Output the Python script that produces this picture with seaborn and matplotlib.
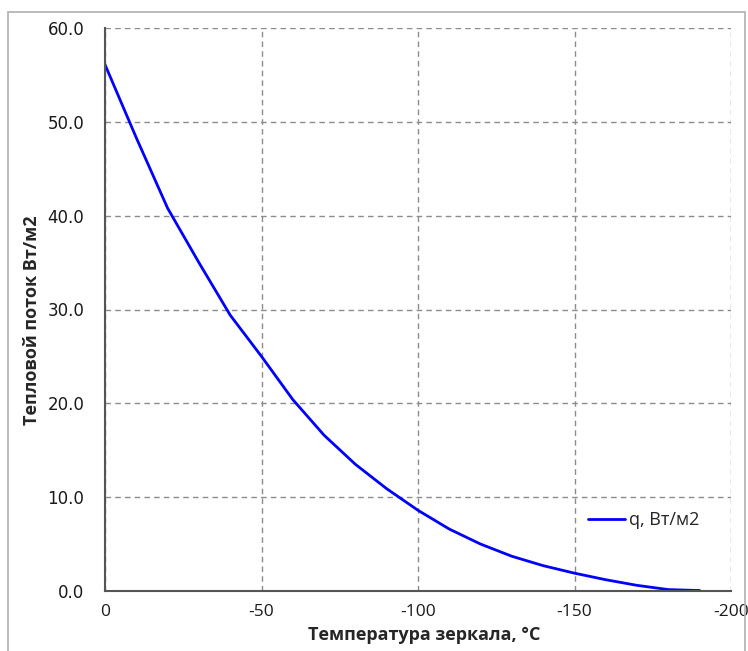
import matplotlib
matplotlib.use("Agg")
import matplotlib.pyplot as plt
import seaborn as sns
import pandas as pd
from matplotlib.patches import Rectangle

# Data
temperature = [0, -10, -20, -30, -40, -50, -60, -70, -80, -90,
               -100, -110, -120, -130, -140, -150, -160, -170, -180, -190]
heat_flux = [56.1, 48.3, 40.8, 35.0, 29.4, 25.0, 20.4, 16.6, 13.5, 10.9,
             8.6, 6.6, 5.0, 3.7, 2.7, 1.9, 1.2, 0.6, 0.15, 0.05]
series_name = "q, Вт/м2"
x_ticks = [0, -50, -100, -150, -200]
y_ticks = [0, 10, 20, 30, 40, 50, 60]

df = pd.DataFrame({"T": temperature, "q": heat_flux})

sns.set_style("white")
plt.rcParams["font.family"] = ["Open Sans", "DejaVu Sans"]

fig = plt.figure(figsize=(7.48, 6.51), dpi=100)
ax = fig.add_axes([105/748, 1 - 591/651, 626/748, 563/651])

sns.lineplot(data=df, x="T", y="q", ax=ax, color="#0000FF", linewidth=2.0,
             label=series_name)

ax.set_xlim(0, -200)
ax.set_ylim(0, 60)
ax.set_xticks(x_ticks)
ax.set_xticklabels([str(t) for t in x_ticks])
ax.set_yticks(y_ticks)
ax.set_yticklabels([f"{t:.1f}" for t in y_ticks], fontfamily="DejaVu Sans")

ax.grid(True, color="#8c8c8c", linestyle=(0, (4, 3)), linewidth=1.0)
for s in ["top", "right"]:
    ax.spines[s].set_visible(False)
for s in ["left", "bottom"]:
    ax.spines[s].set_color("#555555")
    ax.spines[s].set_linewidth(1.5)
ax.tick_params(axis="x", direction="out", length=4, width=1.2, color="#333333",
               labelsize=12.5, labelcolor="#1a1a1a", pad=5)
ax.tick_params(axis="y", direction="in", length=4, width=1.2, color="#333333",
               labelsize=12, labelcolor="#1a1a1a", pad=15)

ax.set_xlabel("Температура зеркала, °C", fontsize=13, fontweight="bold")
ax.set_ylabel("Тепловой поток Вт/м2", fontsize=13, fontweight="bold")
ax.xaxis.set_label_coords(0.51, -0.062)
ax.yaxis.set_label_coords(-0.102, 0.481)

leg = ax.legend(loc="center left", bbox_to_anchor=(0.7716, 0.126), frameon=False,
                fontsize=13, handlelength=2.05, handletextpad=0.2,
                borderpad=0, borderaxespad=0)

# outer chart border
fig.patches.append(Rectangle((8/748, -0.05), 737/748, 1.05 - 12/651,
                             transform=fig.transFigure, fill=False,
                             edgecolor="#b0b0b0", linewidth=1.2))

fig.savefig("out.png", dpi=100)
